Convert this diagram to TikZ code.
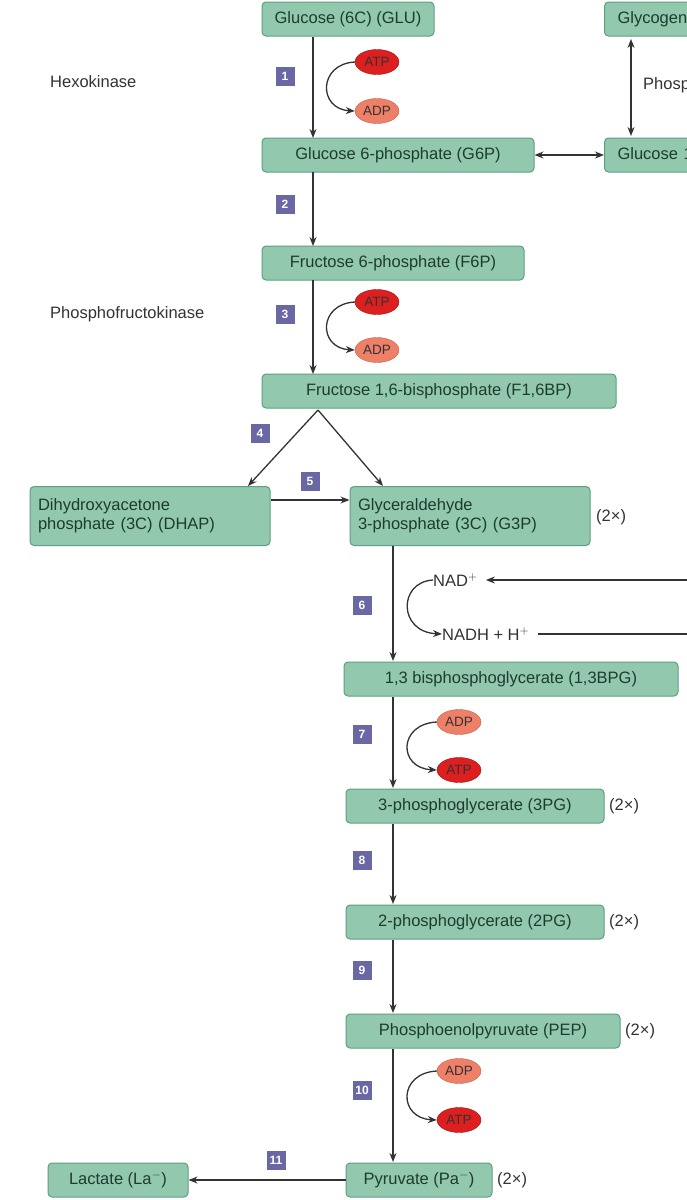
\documentclass[tikz,border=0pt]{standalone}
\usepackage{fontspec}
\setmainfont{Liberation Sans}
\usetikzlibrary{arrows.meta,shapes.geometric}
\definecolor{nfill}{HTML}{92C9AE}
\definecolor{nedge}{HTML}{5E9E82}
\definecolor{ntext}{HTML}{1E3B30}
\definecolor{stepc}{HTML}{6A68A4}
\definecolor{atpc}{HTML}{DD1F1F}
\definecolor{adpc}{HTML}{EE8068}
\begin{document}
\begin{tikzpicture}[x=1pt,y=-1pt,
 mol/.style={draw=nedge,fill=nfill,rounded corners=4pt,line width=1pt,text=ntext,font=\fontsize{16.5}{19}\selectfont,inner sep=0pt,minimum height=34pt},
 stp/.style={fill=stepc,text=white,font=\bfseries\fontsize{12}{13}\selectfont,minimum size=19pt,inner sep=0pt},
 atp/.style={ellipse,fill=atpc,draw=atpc!70!black,text=black!80,font=\fontsize{13.5}{15}\selectfont,inner sep=1pt,minimum width=44pt,minimum height=25pt},
 adp/.style={ellipse,fill=adpc,draw=adpc!80!black,text=black!80,font=\fontsize{13.5}{15}\selectfont,inner sep=1pt,minimum width=44pt,minimum height=25pt},
 lbl/.style={font=\fontsize{16.5}{19}\selectfont,text=black!80,inner sep=0pt},
 arr/.style={-{Stealth[length=9pt,width=7pt]},line width=1.3pt,black!80},
 darr/.style={{Stealth[length=9pt,width=7pt]}-{Stealth[length=9pt,width=7pt]},line width=1.3pt,black!80}]
\useasboundingbox (0,0) rectangle (686,1200);
\fill[white] (0,0) rectangle (686,1200);
% molecules
\node[mol,minimum width=172pt] (glu) at (348,19) {Glucose (6C) (GLU)};
\node[mol,minimum width=150pt,anchor=west,text width=140pt,align=left] (gly) at (604,19) {\hspace*{8pt}Glycogen};
\node[mol,minimum width=272pt] (g6p) at (398,155) {Glucose 6-phosphate (G6P)};
\node[mol,minimum width=200pt,anchor=west,text width=190pt,align=left] (g1p) at (604,155) {\hspace*{8pt}Glucose 1-phosphate};
\node[mol,minimum width=262pt] (f6p) at (393,263) {Fructose 6-phosphate (F6P)};
\node[mol,minimum width=354pt] (fbp) at (439,391) {Fructose 1,6-bisphosphate (F1,6BP)};
\node[mol,minimum width=240pt,minimum height=59pt,text width=224pt,align=left] (dhap) at (150,516) {Dihydroxyacetone\\phosphate (3C) (DHAP)};
\node[mol,minimum width=240pt,minimum height=59pt,text width=224pt,align=left] (g3p) at (470,516) {Glyceraldehyde\\3-phosphate (3C) (G3P)};
\node[mol,minimum width=334pt] (bpg) at (511,679) {1,3 bisphosphoglycerate (1,3BPG)};
\node[mol,minimum width=258pt] (pg3) at (475,806) {3-phosphoglycerate (3PG)};
\node[mol,minimum width=258pt] (pg2) at (475,922) {2-phosphoglycerate (2PG)};
\node[mol,minimum width=274pt] (pep) at (483,1031) {Phosphoenolpyruvate (PEP)};
\node[mol,minimum width=146pt] (pyr) at (419,1180) {Pyruvate (Pa$^{-}$)};
\node[mol,minimum width=140pt] (lac) at (118,1180) {Lactate (La$^{-}$)};
% 2x labels
\node[lbl,anchor=west] (x1) at (596,517) {(2×)};
\node[lbl,anchor=west] (x2) at (609,806) {(2×)};
\node[lbl,anchor=west] (x3) at (609,922) {(2×)};
\node[lbl,anchor=west] (x4) at (625,1031) {(2×)};
\node[lbl,anchor=west] (x5) at (497,1180) {(2×)};
% enzyme labels
\node[lbl,anchor=west] (hk) at (50,82) {Hexokinase};
\node[lbl,anchor=west] (pfk) at (50,314) {Phosphofructokinase};
\node[lbl,anchor=west] (pgm) at (643,85) {Phosphoglucomutase};
% steps
\node[stp] (s1) at (285,76) {1};
\node[stp] (s2) at (285,204) {2};
\node[stp] (s3) at (285,314) {3};
\node[stp] (s4) at (260,433) {4};
\node[stp] (s5) at (310,481) {5};
\node[stp] (s6) at (362,605) {6};
\node[stp] (s7) at (362,734) {7};
\node[stp] (s8) at (362,860) {8};
\node[stp] (s9) at (362,970) {9};
\node[stp] (s10) at (362,1090) {10};
\node[stp] (s11) at (276,1160) {11};
% cofactors
\node[atp] (atp1) at (377,62) {ATP};
\node[adp] (adp1) at (377,111) {ADP};
\node[atp] (atp3) at (377,302) {ATP};
\node[adp] (adp3) at (377,350) {ADP};
\node[adp] (adp7) at (459,722) {ADP};
\node[atp] (atp7) at (459,770) {ATP};
\node[adp] (adp10) at (459,1071) {ADP};
\node[atp] (atp10) at (459,1120) {ATP};
\node[lbl,anchor=west] (nad) at (433,580) {NAD$^{+}$};
\node[lbl,anchor=west] (nadh) at (442,634) {NADH + H$^{+}$};
\coordinate (r1) at (690,580);
\coordinate (r2) at (690,634);
% main arrows
\draw[arr] (313,37) -- (313,138);
\draw[arr] (313,172) -- (313,246);
\draw[arr] (313,280) -- (313,374);
\draw[arr] (318,410) -- (248,486);
\draw[arr] (318,410) -- (383,486);
\draw[arr] (dhap.east |- 0,500) -- (g3p.west |- 0,500);
\draw[arr] (393,546) -- (393,661);
\draw[arr] (393,697) -- (393,788);
\draw[arr] (393,824) -- (393,904);
\draw[arr] (393,940) -- (393,1013);
\draw[arr] (393,1049) -- (393,1162);
\draw[arr] (pyr) -- (lac);
\draw[darr] (g6p) -- (g1p);
\draw[darr] (631,39) -- (631,136);
% cofactor curves
\draw[arr] (atp1.west) .. controls (318,64) and (318,109) .. (adp1.west);
\draw[arr] (atp3.west) .. controls (318,304) and (318,348) .. (adp3.west);
\draw[arr] (adp7.west) .. controls (398,724) and (398,768) .. (atp7.west);
\draw[arr] (adp10.west) .. controls (398,1073) and (398,1118) .. (atp10.west);
\draw[arr] (nad.west) .. controls (398,582) and (398,632) .. (nadh.west);
\draw[arr] (r1) -- ([xshift=8pt]nad.east);
\draw[line width=1.3pt,black!80] ([xshift=8pt]nadh.east) -- (r2);
\end{tikzpicture}
\end{document}
